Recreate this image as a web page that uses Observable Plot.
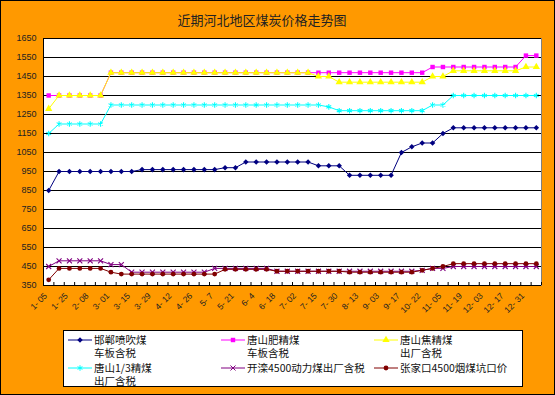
<!DOCTYPE html>
<html><head><meta charset="utf-8">
<script src="https://cdn.jsdelivr.net/npm/d3@7"></script>
<script src="https://cdn.jsdelivr.net/npm/@observablehq/plot@0.6"></script>
<style>
body{margin:0;padding:0;background:#fff;}
#wrap{position:relative;width:555px;height:395px;box-sizing:border-box;border:1px solid #000;background:#FF9900;overflow:hidden;font-family:"Noto Sans CJK SC","Noto Sans",sans-serif;}
#title{position:absolute;left:0;top:9px;width:522px;text-align:center;font-size:13px;color:#222;}
#chart{position:absolute;left:0;top:24px;}
#legend{position:absolute;left:62px;top:329px;width:460px;height:57px;box-sizing:border-box;border:1px solid #000;background:#fff;}
.item{position:absolute;font-size:10.5px;line-height:13.7px;color:#111;white-space:pre-line;}
.sw{position:absolute;}
</style></head>
<body><div id="wrap"><div id="title"></div><div id="chart"></div><div id="legend"></div></div>
<script>
const title = "近期河北地区煤炭价格走势图";
// x tick labels (every second category is labelled)
const tickLabels = ["1- 05","1- 25","2- 08","3- 01","3- 15","3- 29","4- 12","4- 26","5- 7","5- 21","6- 4","6- 18","7- 02","7- 15","7- 30","8- 13","9- 03","9- 17","10- 22","11- 05","11- 19","12- 03","12- 17","12- 31"];
const categories = d3.range(48);
const yTicks = d3.range(350, 1651, 100);

const names = ["邯郸喷吹煤\n车板含税","唐山肥精煤\n车板含税","唐山焦精煤\n出厂含税","唐山1/3精煤\n出厂含税","开滦4500动力煤出厂含税","张家口4500烟煤坑口价"];
const handan = [850,950,950,950,950,950,950,950,950,960,960,960,960,960,960,960,960,970,970,1000,1000,1000,1000,1000,1000,1000,980,980,980,930,930,930,930,930,1050,1080,1100,1100,1150,1180,1180,1180,1180,1180,1180,1180,1180,1180];
const feijing = [1350,1350,1350,1350,1350,1350,1470,1470,1470,1470,1470,1470,1470,1470,1470,1470,1470,1470,1470,1470,1470,1470,1470,1470,1470,1470,1470,1470,1470,1470,1470,1470,1470,1470,1470,1470,1470,1500,1500,1500,1500,1500,1500,1500,1500,1500,1560,1560];
const jiaojing = [1280,1350,1350,1350,1350,1350,1470,1470,1470,1470,1470,1470,1470,1470,1470,1470,1470,1470,1470,1470,1470,1470,1470,1470,1470,1470,1450,1450,1420,1420,1420,1420,1420,1420,1420,1420,1420,1450,1450,1480,1480,1480,1480,1480,1480,1480,1500,1500];
const jing13 = [1150,1200,1200,1200,1200,1200,1300,1300,1300,1300,1300,1300,1300,1300,1300,1300,1300,1300,1300,1300,1300,1300,1300,1300,1300,1300,1300,1290,1270,1270,1270,1270,1270,1270,1270,1270,1270,1300,1300,1350,1350,1350,1350,1350,1350,1350,1350,1350];
const kailuan = [450,480,480,480,480,480,460,460,420,420,420,420,420,420,420,420,440,440,440,440,440,440,425,425,425,425,425,425,425,425,425,425,425,425,425,425,430,440,440,450,450,450,450,450,450,450,450,450];
const zhangjiakou = [380,440,440,440,440,440,420,410,410,410,410,410,410,410,410,410,410,435,435,435,435,435,425,425,425,425,425,425,425,420,420,420,420,420,420,420,430,440,450,465,465,465,465,465,465,465,465,465];

const colors = ["#000080","#FF00FF","#FFFF00","#00FFFF","#800080","#800000"];
const symbols = ["diamond2","square","triangle","asterisk","times","circle"];
const filled = [true,true,true,false,false,true];
const sizes = [2.5,2.5,2.7,2.6,2.4,2.4];
const values = [handan,feijing,jiaojing,jing13,kailuan,zhangjiakou];

document.getElementById("title").textContent = title;

const yMin = yTicks[0], yMax = yTicks[yTicks.length-1];
const pxPerUnit = 247 / (yMax - yMin);
const boundaries = d3.range(categories.length + 1).map(k => k - 0.5);

const marks = [
  Plot.frame({fill: "white", stroke: "#808080"}),
  Plot.gridY(yTicks, {stroke: "black", strokeOpacity: 1}),
  Plot.ruleX(boundaries, {x: d => d, y1: yMin, y2: yMin + 3 / pxPerUnit, stroke: "black"}),
  Plot.ruleX([boundaries[0]], {stroke: "black"}),
  Plot.ruleY([yMin], {stroke: "black"})
];
values.forEach((vals, s) => {
  const rows = categories.map(i => ({x: i, y: vals[i]}));
  marks.push(Plot.line(rows, {x: "x", y: "y", stroke: colors[s], strokeWidth: 1}));
  marks.push(Plot.dot(rows, {x: "x", y: "y", symbol: symbols[s], r: sizes[s],
    fill: filled[s] ? colors[s] : "none", stroke: filled[s] ? "none" : colors[s], strokeWidth: 1.1}));
});
marks.push(Plot.axisY(yTicks, {tickSize: 0, tickPadding: 7, tickFormat: d => String(d), label: null, fontSize: 9, fill: "#222"}));
marks.push(Plot.axisX(categories.filter(i => i % 2 === 0), {tickSize: 0, tickPadding: 9, dx: -3, tickRotate: -45, tickFormat: i => tickLabels[i / 2], label: null, fontSize: 8.5, fill: "#222"}));

const chart = Plot.plot({
  width: 553, height: 300,
  marginLeft: 42, marginRight: 13, marginTop: 13, marginBottom: 40,
  style: {background: "transparent", fontFamily: "'Liberation Sans', sans-serif", fontSize: "9px", overflow: "visible"},
  x: {type: "linear", domain: [boundaries[0], boundaries[boundaries.length-1]]},
  y: {domain: [yMin, yMax]},
  marks
});
document.getElementById("chart").appendChild(chart);

// legend
const legend = document.getElementById("legend");
const colX = [4, 157, 310];
const rowY = [1.5, 29.5];
const symMap = {diamond2: d3.symbolDiamond2, square: d3.symbolSquare, triangle: d3.symbolTriangle, asterisk: d3.symbolAsterisk, times: d3.symbolTimes, circle: d3.symbolCircle};
names.forEach((name, s) => {
  const c = s % 3, r = Math.floor(s / 3);
  const sw = document.createElementNS("http://www.w3.org/2000/svg", "svg");
  sw.setAttribute("width", 24); sw.setAttribute("height", 12);
  sw.setAttribute("class", "sw");
  sw.style.left = colX[c] + "px"; sw.style.top = (rowY[r] + 1) + "px";
  const line = document.createElementNS(sw.namespaceURI, "line");
  line.setAttribute("x1", 0); line.setAttribute("x2", 24); line.setAttribute("y1", 6); line.setAttribute("y2", 6);
  line.setAttribute("stroke", colors[s]);
  sw.appendChild(line);
  const p = document.createElementNS(sw.namespaceURI, "path");
  p.setAttribute("d", d3.symbol(symMap[symbols[s]], Math.PI * sizes[s] * sizes[s])());
  p.setAttribute("transform", "translate(12,6)");
  p.setAttribute("fill", filled[s] ? colors[s] : "none");
  p.setAttribute("stroke", filled[s] ? "none" : colors[s]);
  sw.appendChild(p);
  legend.appendChild(sw);
  const t = document.createElement("div");
  t.className = "item";
  t.style.left = (colX[c] + 26) + "px"; t.style.top = rowY[r] + "px";
  t.textContent = name;
  legend.appendChild(t);
});
</script></body></html>
